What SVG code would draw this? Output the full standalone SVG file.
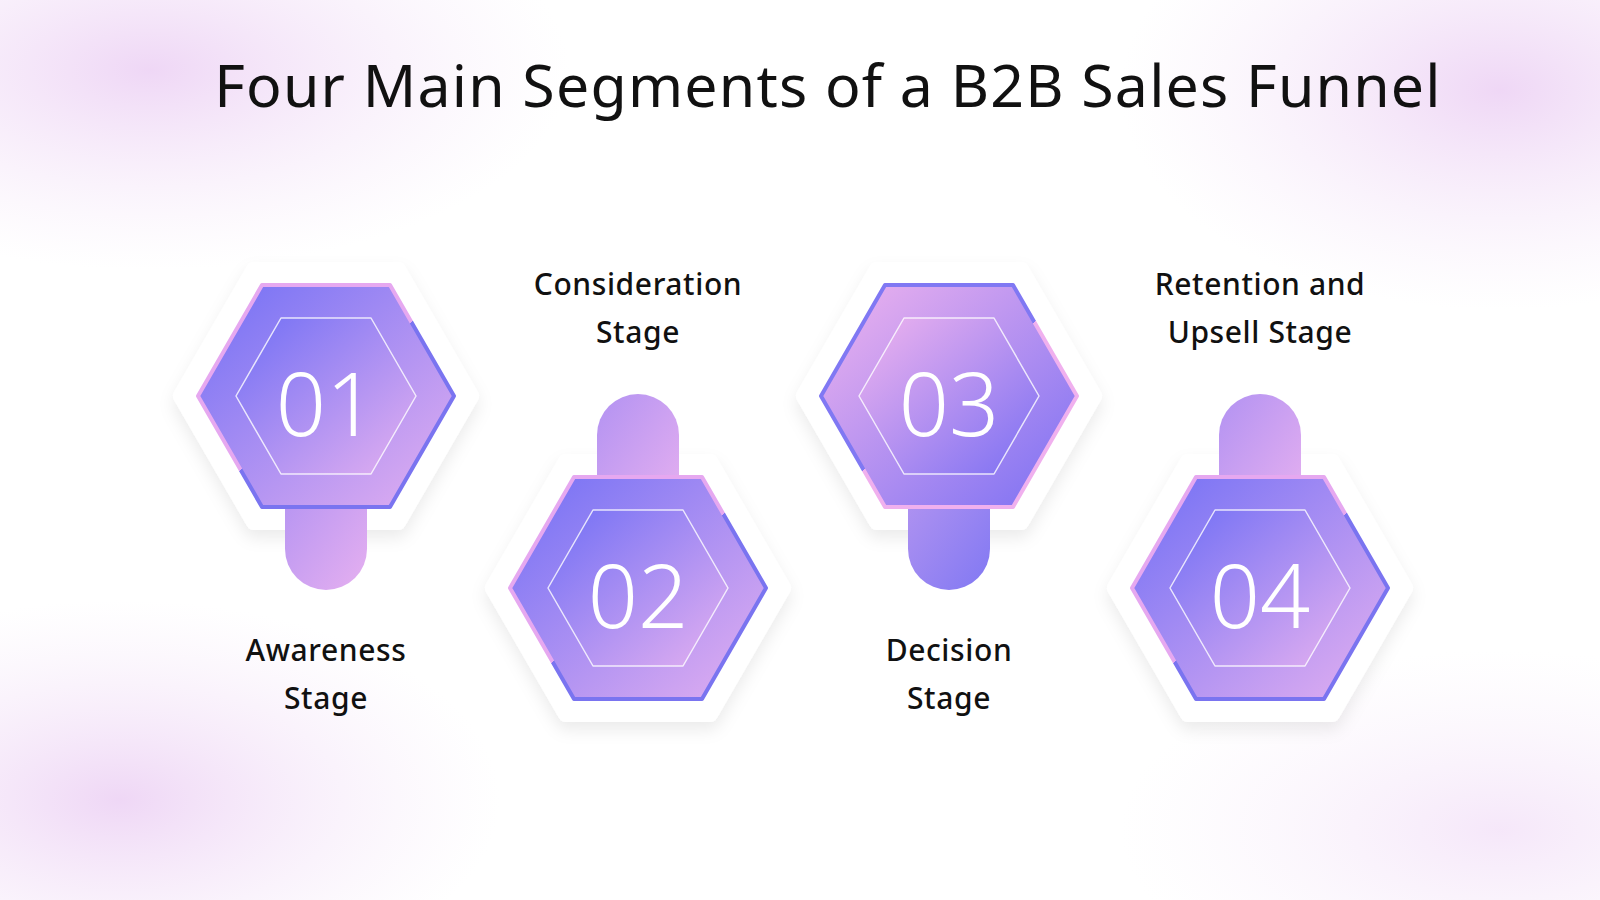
<svg xmlns="http://www.w3.org/2000/svg" width="1600" height="900" viewBox="0 0 1600 900">
<style>
.lbl{font-family:"Noto Sans","Liberation Sans",sans-serif;font-size:30px;font-weight:500;fill:#111;text-anchor:middle;letter-spacing:0.6px}
.num{font-family:"Noto Sans","Liberation Sans",sans-serif;font-size:88px;font-weight:300;fill:#fff;text-anchor:middle}
.title{font-family:"Noto Sans","Liberation Sans",sans-serif;font-size:59px;font-weight:400;fill:#111;text-anchor:middle;letter-spacing:1.2px}
.outer{fill:#fff;stroke:#fff;stroke-width:16;stroke-linejoin:round;filter:url(#sh)}
</style>
<defs>
<radialGradient id="blob" cx="0.5" cy="0.5" r="0.5"><stop offset="0" stop-color="#ecd0f4" stop-opacity="0.85"/><stop offset="1" stop-color="#f4e6f8" stop-opacity="0"/></radialGradient>
<linearGradient id="gA" x1="0" y1="0" x2="1" y2="1"><stop offset="0" stop-color="#716ff5"/><stop offset="1" stop-color="#e4b0f0"/></linearGradient>
<linearGradient id="gB" x1="0" y1="0" x2="1" y2="1"><stop offset="0" stop-color="#f0b4ee"/><stop offset="1" stop-color="#7a6ff3"/></linearGradient>
<linearGradient id="tA" x1="0" y1="0" x2="1" y2="1"><stop offset="0" stop-color="#b292f2"/><stop offset="1" stop-color="#e6b0f0"/></linearGradient>
<linearGradient id="tB" x1="0" y1="0" x2="1" y2="1"><stop offset="0" stop-color="#b495f0"/><stop offset="1" stop-color="#8178f3"/></linearGradient>
<linearGradient id="eA" x1="0" y1="0" x2="1" y2="1"><stop offset="0" stop-color="#e6a8f0"/><stop offset="0.5" stop-color="#e6a8f0"/><stop offset="0.5" stop-color="#7a74f0"/><stop offset="1" stop-color="#7a74f0"/></linearGradient>
<linearGradient id="eB" x1="0" y1="0" x2="1" y2="1"><stop offset="0" stop-color="#8078f3"/><stop offset="0.5" stop-color="#8078f3"/><stop offset="0.5" stop-color="#f0b0ee"/><stop offset="1" stop-color="#f0b0ee"/></linearGradient>
<filter id="sh" x="-30%" y="-30%" width="160%" height="160%"><feDropShadow dx="0" dy="8" stdDeviation="8" flood-color="#000" flood-opacity="0.08"/></filter>
<polygon id="ho" points="-145,0 -72,-126 72,-126 145,0 72,126 -72,126"/>
<polygon id="hm" points="-128,0 -64,-111 64,-111 128,0 64,111 -64,111"/>
<polygon id="hi" points="-90,0 -45,-78 45,-78 90,0 45,78 -45,78"/>
<path id="tb" d="M-41,80 V153 A41,41 0 0 0 41,153 V80 Z"/>
<path id="tt" d="M-41,-80 V-153 A41,41 0 0 1 41,-153 V-80 Z"/>
</defs>
<rect width="1600" height="900" fill="#fff"/>
<ellipse cx="150" cy="70" rx="420" ry="200" fill="url(#blob)"/>
<ellipse cx="1500" cy="90" rx="380" ry="220" fill="url(#blob)"/>
<ellipse cx="120" cy="800" rx="380" ry="200" fill="url(#blob)"/>
<ellipse cx="1500" cy="830" rx="380" ry="180" fill="url(#blob)" opacity="0.6"/>
<text class="title" x="828" y="107">Four Main Segments of a B2B Sales Funnel</text>

<g id="node1" transform="translate(326,396)">
<use href="#ho" class="outer"/>
<use href="#tb" fill="url(#tA)"/>
<use href="#hm" fill="url(#gA)" stroke="url(#eA)" stroke-width="4" stroke-linejoin="round"/>
<use href="#hi" fill="url(#gA)" stroke="#fff" stroke-width="1.5" stroke-opacity="0.8" stroke-linejoin="round"/>
<text class="num" y="40">01</text>
</g>
<g id="node2" transform="translate(638,588)">
<use href="#ho" class="outer"/>
<use href="#tt" fill="url(#tA)"/>
<use href="#hm" fill="url(#gA)" stroke="url(#eA)" stroke-width="4" stroke-linejoin="round"/>
<use href="#hi" fill="url(#gA)" stroke="#fff" stroke-width="1.5" stroke-opacity="0.8" stroke-linejoin="round"/>
<text class="num" y="40">02</text>
</g>
<g id="node3" transform="translate(949,396)">
<use href="#ho" class="outer"/>
<use href="#tb" fill="url(#tB)"/>
<use href="#hm" fill="url(#gB)" stroke="url(#eB)" stroke-width="4" stroke-linejoin="round"/>
<use href="#hi" fill="url(#gB)" stroke="#fff" stroke-width="1.5" stroke-opacity="0.8" stroke-linejoin="round"/>
<text class="num" y="40">03</text>
</g>
<g id="node4" transform="translate(1260,588)">
<use href="#ho" class="outer"/>
<use href="#tt" fill="url(#tA)"/>
<use href="#hm" fill="url(#gA)" stroke="url(#eA)" stroke-width="4" stroke-linejoin="round"/>
<use href="#hi" fill="url(#gA)" stroke="#fff" stroke-width="1.5" stroke-opacity="0.8" stroke-linejoin="round"/>
<text class="num" y="40">04</text>
</g>
<g id="labels">
<text class="lbl" x="326" y="661">Awareness</text>
<text class="lbl" x="326" y="709">Stage</text>
<text class="lbl" x="638" y="295">Consideration</text>
<text class="lbl" x="638" y="343">Stage</text>
<text class="lbl" x="949" y="661">Decision</text>
<text class="lbl" x="949" y="709">Stage</text>
<text class="lbl" x="1260" y="295">Retention and</text>
<text class="lbl" x="1260" y="343">Upsell Stage</text>
</g>
<g id="connectors"/>
</svg>
